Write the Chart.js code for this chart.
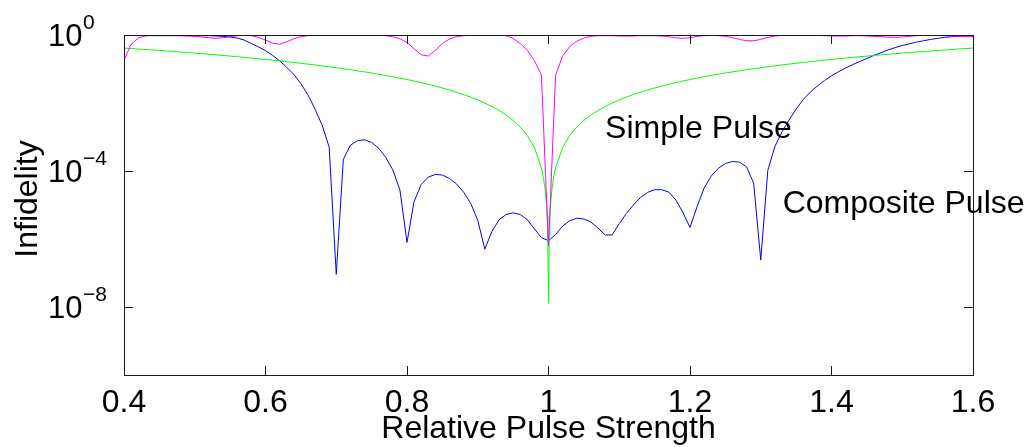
<!DOCTYPE html>
<html><head><meta charset="utf-8">
<script src="https://cdn.jsdelivr.net/npm/chart.js@4.4.0/dist/chart.umd.min.js"></script>
<style>html,body{margin:0;padding:0;background:#fff;overflow:hidden}</style>
</head><body>
<canvas id="c" width="1027" height="447" style="display:block;width:1027px;height:447px"></canvas>
<script>
// Relative pulse strength samples (x axis)
const pulseStrength = [
0.40,0.41,0.42,0.43,0.44,0.45,0.46,0.47,0.48,0.49,
0.50,0.51,0.52,0.53,0.54,0.55,0.56,0.57,0.58,0.59,
0.60,0.61,0.62,0.63,0.64,0.65,0.66,0.67,0.68,0.69,
0.70,0.71,0.72,0.73,0.74,0.75,0.76,0.77,0.78,0.79,
0.80,0.81,0.82,0.83,0.84,0.85,0.86,0.87,0.88,0.89,
0.90,0.91,0.92,0.93,0.94,0.95,0.96,0.97,0.98,0.99,
1.00,1.01,1.02,1.03,1.04,1.05,1.06,1.07,1.08,1.09,
1.10,1.11,1.12,1.13,1.14,1.15,1.16,1.17,1.18,1.19,
1.20,1.21,1.22,1.23,1.24,1.25,1.26,1.27,1.28,1.29,
1.30,1.31,1.32,1.33,1.34,1.35,1.36,1.37,1.38,1.39,
1.40,1.41,1.42,1.43,1.44,1.45,1.46,1.47,1.48,1.49,
1.50,1.51,1.52,1.53,1.54,1.55,1.56,1.57,1.58,1.59,
1.60];

// log10(infidelity), composite pulse (blue)
const compositeLog10 = [
-0.01,-0.01,-0.01,-0.01,-0.02,-0.02,-0.02,-0.02,-0.02,-0.02,
-0.02,-0.02,-0.02,-0.03,-0.04,-0.06,-0.09,-0.15,-0.25,-0.35,
-0.46,-0.60,-0.76,-0.95,-1.16,-1.43,-1.76,-2.18,-2.65,-3.30,
-7.04,-3.66,-3.24,-3.11,-3.08,-3.16,-3.33,-3.60,-3.97,-4.56,
-6.10,-4.90,-4.40,-4.18,-4.10,-4.12,-4.22,-4.38,-4.62,-4.95,
-5.45,-6.30,-5.78,-5.44,-5.28,-5.23,-5.28,-5.43,-5.70,-5.96,
-6.05,-5.87,-5.62,-5.46,-5.39,-5.41,-5.50,-5.68,-5.88,-5.88,
-5.55,-5.25,-5.00,-4.78,-4.63,-4.55,-4.55,-4.62,-4.85,-5.22,
-5.66,-5.05,-4.50,-4.15,-3.92,-3.78,-3.72,-3.74,-3.88,-4.36,
-6.62,-3.98,-3.28,-2.85,-2.50,-2.18,-1.90,-1.68,-1.50,-1.34,
-1.20,-1.08,-0.97,-0.87,-0.78,-0.69,-0.60,-0.52,-0.44,-0.37,
-0.31,-0.26,-0.21,-0.17,-0.13,-0.10,-0.07,-0.05,-0.04,-0.03,
-0.03];

// log10(infidelity), simple pulse (green)
const simpleLog10 = [
-0.385,-0.398,-0.412,-0.426,-0.441,-0.455,-0.470,-0.486,-0.501,-0.517,
-0.533,-0.550,-0.567,-0.584,-0.602,-0.621,-0.639,-0.658,-0.678,-0.698,
-0.719,-0.740,-0.762,-0.785,-0.808,-0.832,-0.856,-0.882,-0.908,-0.935,
-0.963,-0.992,-1.021,-1.053,-1.085,-1.119,-1.154,-1.190,-1.228,-1.268,
-1.310,-1.355,-1.401,-1.450,-1.503,-1.559,-1.618,-1.682,-1.752,-1.827,
-1.910,-2.001,-2.103,-2.219,-2.353,-2.511,-2.705,-2.955,-3.307,-3.909,
-7.890,-3.909,-3.307,-2.955,-2.705,-2.511,-2.353,-2.219,-2.103,-2.001,
-1.910,-1.827,-1.752,-1.682,-1.618,-1.559,-1.503,-1.450,-1.401,-1.355,
-1.310,-1.268,-1.228,-1.190,-1.154,-1.119,-1.085,-1.053,-1.021,-0.992,
-0.963,-0.935,-0.908,-0.882,-0.856,-0.832,-0.808,-0.785,-0.762,-0.740,
-0.719,-0.698,-0.678,-0.658,-0.639,-0.621,-0.602,-0.584,-0.567,-0.550,
-0.533,-0.517,-0.501,-0.486,-0.470,-0.455,-0.441,-0.426,-0.412,-0.398,
-0.385];
// extra simple-pulse samples close to the resonance
const simpleNearX = [0.993,0.995,0.997,0.998,0.999,1.001,1.002,1.003,1.005,1.007];
const simpleNearLog10 = [-4.219,-4.511,-4.955,-5.307,-5.909,-5.909,-5.307,-4.955,-4.511,-4.219];

// log10(infidelity), third curve (magenta)
const magentaLog10 = [
-0.74,-0.28,-0.09,-0.03,-0.01,-0.01,-0.01,-0.01,-0.02,-0.03,
-0.04,-0.06,-0.08,-0.10,-0.08,-0.05,-0.02,-0.01,-0.02,-0.07,
-0.15,-0.24,-0.27,-0.20,-0.11,-0.05,-0.02,-0.01,-0.01,-0.01,
-0.01,-0.01,-0.01,-0.01,-0.01,-0.01,-0.01,-0.02,-0.05,-0.11,
-0.22,-0.40,-0.58,-0.62,-0.45,-0.25,-0.12,-0.05,-0.02,-0.01,
-0.01,-0.01,-0.01,-0.01,-0.02,-0.10,-0.25,-0.45,-0.75,-1.18,
-6.20,-1.18,-0.62,-0.34,-0.18,-0.09,-0.04,-0.02,-0.02,-0.02,
-0.03,-0.03,-0.03,-0.02,-0.02,-0.02,-0.03,-0.05,-0.08,-0.10,
-0.08,-0.04,-0.02,-0.01,-0.02,-0.04,-0.08,-0.13,-0.17,-0.17,
-0.13,-0.07,-0.03,-0.01,-0.01,-0.01,-0.01,-0.01,-0.01,-0.02,
-0.03,-0.03,-0.03,-0.02,-0.02,-0.03,-0.04,-0.05,-0.06,-0.07,
-0.06,-0.04,-0.02,-0.01,-0.01,-0.01,-0.02,-0.03,-0.04,-0.05,
-0.05];

const xTickValues = [0.4,0.6,0.8,1.0,1.2,1.4,1.6];
const xTickLabels = ['0.4','0.6','0.8','1','1.2','1.4','1.6'];
const yTickExponents = [0,-4,-8];
const xTitle = 'Relative Pulse Strength';
const yTitle = 'Infidelity';
const curveLabels = ['Simple Pulse','Composite Pulse'];
const curveLabelAt = [[1.08,-3.03],[1.331,-5.23]]; // data coords (x, log10 y) of label start/baseline

// ---- build chart tables ----
const toPts = (xs, ls) => xs.map((x,i)=>({x:x, y:Math.pow(10, ls[i])}));
const bluePts = toPts(pulseStrength, compositeLog10);
const magentaPts = toPts(pulseStrength, magentaLog10);
const greenPts = toPts(pulseStrength, simpleLog10).concat(toPts(simpleNearX, simpleNearLog10)).sort((a,b)=>a.x-b.x);

const FONT = '"Liberation Sans", Arial, Helvetica, sans-serif';
const AX = '#1a1a1a';

const decor = {
  id:'decor',
  afterDatasetsDraw(chart){
    const ctx = chart.ctx, a = chart.chartArea;
    const xs = chart.scales.x, ys = chart.scales.y;
    ctx.save();
    ctx.strokeStyle = AX; ctx.lineWidth = 1;
    // frame
    ctx.strokeRect(Math.round(a.left)+0.5, Math.round(a.top)+0.5, Math.round(a.right-a.left), Math.round(a.bottom-a.top));
    // inward ticks
    ctx.beginPath();
    const tl = 9;
    xTickValues.forEach(v=>{
      const px = Math.round(xs.getPixelForValue(v))+0.5;
      ctx.moveTo(px, a.bottom); ctx.lineTo(px, a.bottom-tl);
      ctx.moveTo(px, a.top); ctx.lineTo(px, a.top+tl);
    });
    yTickExponents.forEach(e=>{
      const py = Math.round(ys.getPixelForValue(Math.pow(10,e)))+0.5;
      ctx.moveTo(a.left, py); ctx.lineTo(a.left+tl, py);
      ctx.moveTo(a.right, py); ctx.lineTo(a.right-tl, py);
    });
    ctx.stroke();
    // y tick labels 10^e
    ctx.fillStyle = '#000';
    ctx.textBaseline = 'alphabetic';
    yTickExponents.forEach(e=>{
      const py = ys.getPixelForValue(Math.pow(10,e));
      ctx.font = '31px ' + FONT;
      ctx.textAlign = 'left';
      ctx.fillText('10', 48, py + 11);
      ctx.font = '21px ' + FONT;
      ctx.fillText(e === 0 ? '0' : '\u2212' + Math.abs(e), 83, py - 6);
    });
    // axis titles
    ctx.font = '32px ' + FONT;
    ctx.textAlign = 'center';
    ctx.fillText(xTitle, (a.left+a.right)/2, 438);
    ctx.save();
    ctx.translate(37, 199);
    ctx.rotate(-Math.PI/2);
    ctx.fillText(yTitle, 0, 0);
    ctx.restore();
    // curve labels
    ctx.font = '32px ' + FONT;
    ctx.textAlign = 'left';
    curveLabels.forEach((t,i)=>{
      const p = curveLabelAt[i];
      ctx.fillText(t, xs.getPixelForValue(p[0]), ys.getPixelForValue(Math.pow(10,p[1])));
    });
    ctx.restore();
  }
};

new Chart(document.getElementById('c'), {
  type:'line',
  data:{datasets:[
    {label:'third curve', data:magentaPts, borderColor:'#ff00ff', borderWidth:1, pointRadius:0, tension:0, fill:false},
    {label:curveLabels[0], data:greenPts, borderColor:'#00ff00', borderWidth:1, pointRadius:0, tension:0, fill:false},
    {label:curveLabels[1], data:bluePts, borderColor:'#0000ff', borderWidth:1, pointRadius:0, tension:0, fill:false}
  ]},
  options:{
    responsive:false, animation:false, devicePixelRatio:1,
    layout:{padding:{top:35, right:54, left:0, bottom:0}},
    plugins:{legend:{display:false}, tooltip:{enabled:false}},
    scales:{
      x:{type:'linear', min:0.4, max:1.6,
         grid:{display:false, drawTicks:false}, border:{display:false},
         afterBuildTicks: s => { s.ticks = xTickValues.map(v=>({value:v})); },
         ticks:{padding:9, color:'#000', font:{family:FONT, size:32}, maxRotation:0, autoSkip:false,
                callback:(v)=> xTickLabels[xTickValues.findIndex(t=>Math.abs(t-v)<1e-6)]},
         afterFit: s => { s.height = 72; }},
      y:{type:'logarithmic', min:1e-10, max:1,
         grid:{display:false, drawTicks:false}, border:{display:false},
         ticks:{display:false},
         afterFit: s => { s.width = 124; }}
    }
  },
  plugins:[decor]
});
</script>
</body></html>
